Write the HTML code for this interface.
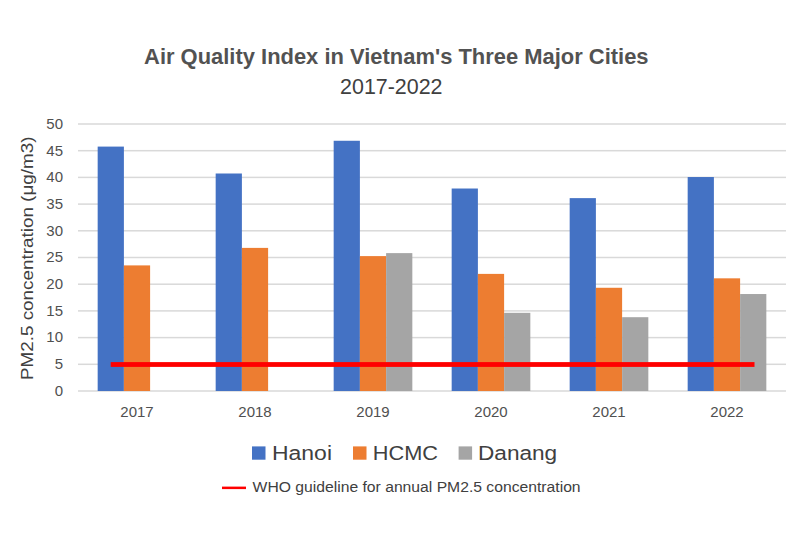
<!DOCTYPE html>
<html><head><meta charset="utf-8"><style>
html,body{margin:0;padding:0;background:#fff;}
body{width:800px;height:533px;overflow:hidden;}
svg{display:block;font-family:"Liberation Sans",sans-serif;}
.ax{font-size:15px;fill:#505050;}
</style></head><body>
<svg width="800" height="533" viewBox="0 0 800 533">
<rect width="800" height="533" fill="#fff"/>
<text x="396.3" y="64.3" text-anchor="middle" font-weight="bold" font-size="22.3" fill="#525252" textLength="504.5" lengthAdjust="spacingAndGlyphs">Air Quality Index in Vietnam's Three Major Cities</text>
<text x="391.3" y="94.3" text-anchor="middle" font-size="21.8" fill="#404040" textLength="102.5" lengthAdjust="spacingAndGlyphs">2017-2022</text>
<text transform="translate(33.2,258.3) rotate(-90)" text-anchor="middle" font-size="17.3" fill="#404040" textLength="243.5" lengthAdjust="spacingAndGlyphs">PM2.5 concentration (μg/m3)</text>
<rect x="78.0" y="390.25" width="708.0" height="1.5" fill="#D9D9D9"/>
<text x="63" y="395.80" text-anchor="end" class="ax">0</text>
<rect x="78.0" y="363.55" width="708.0" height="1.5" fill="#D9D9D9"/>
<text x="63" y="369.10" text-anchor="end" class="ax">5</text>
<rect x="78.0" y="336.85" width="708.0" height="1.5" fill="#D9D9D9"/>
<text x="63" y="342.40" text-anchor="end" class="ax">10</text>
<rect x="78.0" y="310.15" width="708.0" height="1.5" fill="#D9D9D9"/>
<text x="63" y="315.70" text-anchor="end" class="ax">15</text>
<rect x="78.0" y="283.45" width="708.0" height="1.5" fill="#D9D9D9"/>
<text x="63" y="289.00" text-anchor="end" class="ax">20</text>
<rect x="78.0" y="256.75" width="708.0" height="1.5" fill="#D9D9D9"/>
<text x="63" y="262.30" text-anchor="end" class="ax">25</text>
<rect x="78.0" y="230.05" width="708.0" height="1.5" fill="#D9D9D9"/>
<text x="63" y="235.60" text-anchor="end" class="ax">30</text>
<rect x="78.0" y="203.35" width="708.0" height="1.5" fill="#D9D9D9"/>
<text x="63" y="208.90" text-anchor="end" class="ax">35</text>
<rect x="78.0" y="176.65" width="708.0" height="1.5" fill="#D9D9D9"/>
<text x="63" y="182.20" text-anchor="end" class="ax">40</text>
<rect x="78.0" y="149.95" width="708.0" height="1.5" fill="#D9D9D9"/>
<text x="63" y="155.50" text-anchor="end" class="ax">45</text>
<rect x="78.0" y="123.25" width="708.0" height="1.5" fill="#D9D9D9"/>
<text x="63" y="128.80" text-anchor="end" class="ax">50</text>
<rect x="97.67" y="146.59" width="26.22" height="244.41" fill="#4472C4"/>
<rect x="123.89" y="265.40" width="26.22" height="125.60" fill="#ED7D31"/>
<text x="137.00" y="417" text-anchor="middle" class="ax">2017</text>
<rect x="215.67" y="173.50" width="26.22" height="217.50" fill="#4472C4"/>
<rect x="241.89" y="247.89" width="26.22" height="143.11" fill="#ED7D31"/>
<text x="255.00" y="417" text-anchor="middle" class="ax">2018</text>
<rect x="333.67" y="140.77" width="26.22" height="250.23" fill="#4472C4"/>
<rect x="359.89" y="256.11" width="26.22" height="134.89" fill="#ED7D31"/>
<rect x="386.11" y="253.12" width="26.22" height="137.88" fill="#A5A5A5"/>
<text x="373.00" y="417" text-anchor="middle" class="ax">2019</text>
<rect x="451.67" y="188.51" width="26.22" height="202.49" fill="#4472C4"/>
<rect x="477.89" y="273.89" width="26.22" height="117.11" fill="#ED7D31"/>
<rect x="504.11" y="312.82" width="26.22" height="78.18" fill="#A5A5A5"/>
<text x="491.00" y="417" text-anchor="middle" class="ax">2020</text>
<rect x="569.67" y="198.12" width="26.22" height="192.88" fill="#4472C4"/>
<rect x="595.89" y="287.78" width="26.22" height="103.22" fill="#ED7D31"/>
<rect x="622.11" y="317.20" width="26.22" height="73.80" fill="#A5A5A5"/>
<text x="609.00" y="417" text-anchor="middle" class="ax">2021</text>
<rect x="687.67" y="177.03" width="26.22" height="213.97" fill="#4472C4"/>
<rect x="713.89" y="278.33" width="26.22" height="112.67" fill="#ED7D31"/>
<rect x="740.11" y="294.03" width="26.22" height="96.97" fill="#A5A5A5"/>
<text x="727.00" y="417" text-anchor="middle" class="ax">2022</text>
<rect x="110.7" y="362.1" width="643.8" height="4.8" fill="#FF0000"/>
<rect x="252" y="446.4" width="13.5" height="13.3" fill="#4472C4"/>
<text x="272" y="459.6" font-size="20" fill="#404040" textLength="60" lengthAdjust="spacingAndGlyphs">Hanoi</text>
<rect x="353" y="446.4" width="13.5" height="13.3" fill="#ED7D31"/>
<text x="372.8" y="459.6" font-size="20" fill="#404040" textLength="65.2" lengthAdjust="spacingAndGlyphs">HCMC</text>
<rect x="458.6" y="446.4" width="13.5" height="13.3" fill="#A5A5A5"/>
<text x="478" y="459.6" font-size="20" fill="#404040" textLength="79.2" lengthAdjust="spacingAndGlyphs">Danang</text>
<rect x="222" y="486.6" width="24" height="2.5" fill="#FF0000"/>
<text x="252.6" y="492" font-size="14" fill="#404040" textLength="328" lengthAdjust="spacingAndGlyphs">WHO guideline for annual PM2.5 concentration</text>
</svg>
</body></html>
